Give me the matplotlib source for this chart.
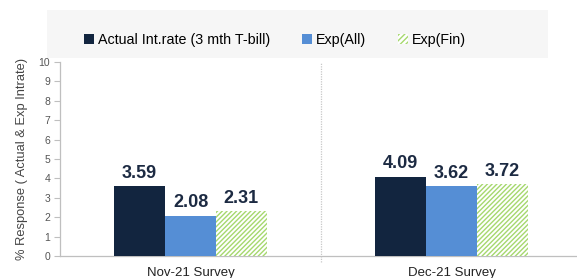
import matplotlib
matplotlib.use("Agg")
import matplotlib.pyplot as plt
from matplotlib.patches import Rectangle, Patch
import numpy as np

categories = ["Nov-21 Survey", "Dec-21 Survey"]
series_names = ["Actual Int.rate (3 mth T-bill)", "Exp(All)", "Exp(Fin)"]
actual = [3.59, 4.09]
exp_all = [2.08, 3.62]
exp_fin = [2.31, 3.72]
yticks = list(range(0, 11))

plt.rcParams['font.family'] = ['Liberation Sans', 'DejaVu Sans']
plt.rcParams['hatch.linewidth'] = 1.0

W, H = 577, 278
fig = plt.figure(figsize=(W / 100, H / 100), dpi=100)

# light legend band
fig.patches.append(Rectangle((47 / W, 1 - 58 / H), (548 - 47) / W, 48 / H,
                             transform=fig.transFigure, facecolor="#f6f6f6",
                             edgecolor="none", zorder=0))

ax = fig.add_axes([60 / W, 22 / H, (582 - 60) / W, (256 - 62) / H])
ax.set_facecolor("none")

x = np.arange(len(categories))
bw = 0.195
c_dark = "#12253f"
c_blue = "#558ed5"
c_green = "#a6d86e"

b1 = ax.bar(x - bw, actual, bw, color=c_dark, zorder=3)
b2 = ax.bar(x, exp_all, bw, color=c_blue, zorder=3)
b3 = ax.bar(x + bw, exp_fin, bw, facecolor="white", edgecolor=c_green,
            hatch="///////", linewidth=0, zorder=3)

for bars, vals in ((b1, actual), (b2, exp_all), (b3, exp_fin)):
    for rect, v in zip(bars, vals):
        ax.annotate(f"{v:.2f}", (rect.get_x() + rect.get_width() / 2, v),
                    xytext=(0, 3), textcoords="offset points",
                    ha="center", va="bottom", fontsize=13,
                    fontweight="bold", color="#1c2a42")

ax.set_xlim(-0.5, 1.5)
ax.set_ylim(0, 10)
ax.set_yticks(yticks)
ax.tick_params(axis="y", labelsize=7.5, colors="#bfbfbf", labelcolor="#555555",
               length=4, width=0.8, pad=3)
ax.set_xticks(x)
ax.set_xticklabels(categories, fontsize=9.5, color="#222222")
ax.tick_params(axis="x", length=0, pad=8)

# category separator
ax.plot([0.5, 0.5], [-0.3, 10], color="#c8c8c8", lw=0.9, ls=(0, (1, 1)),
        clip_on=False, zorder=1)

for s in ("top", "right"):
    ax.spines[s].set_visible(False)
for s in ("left", "bottom"):
    ax.spines[s].set_color("#bfbfbf")
    ax.spines[s].set_linewidth(0.9)

ax.set_ylabel("% Response ( Actual & Exp Intrate)", fontsize=9.3, color="#444444",
              labelpad=8)

handles = [Patch(facecolor=c_dark), Patch(facecolor=c_blue),
           Patch(facecolor="white", edgecolor=c_green, hatch="//////", linewidth=0)]
fig.legend(handles, series_names, loc="center", ncol=3, frameon=False,
           bbox_to_anchor=(275 / W, 1 - 40 / H), fontsize=10.3,
           handlelength=0.7, handleheight=0.7, handletextpad=0.3,
           columnspacing=2.2)

fig.savefig("out.png", dpi=100)
